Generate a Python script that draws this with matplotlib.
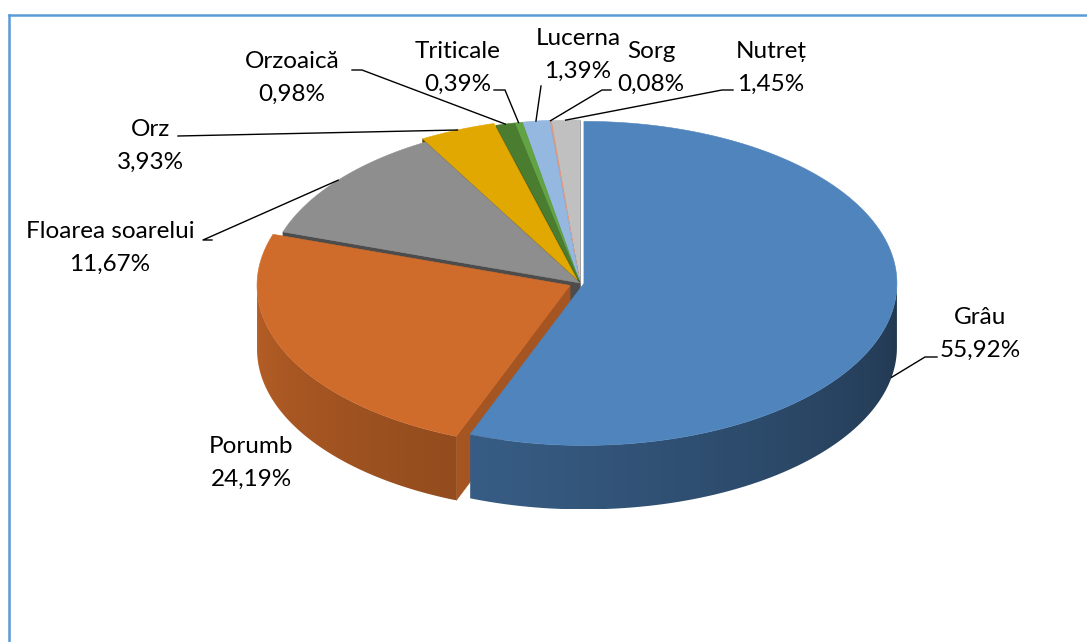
import numpy as np
import matplotlib.pyplot as plt
from matplotlib.patches import Polygon
from matplotlib.colors import to_rgb

# share of cultivated area, clockwise from 12 o'clock
crops = ['Grâu', 'Porumb', 'Floarea soarelui', 'Orz', 'Orzoaică',
         'Triticale', 'Lucerna', 'Sorg', 'Nutreț']
shares = [55.92, 24.19, 11.67, 3.93, 0.98, 0.39, 1.39, 0.08, 1.45]

colors = ['#4f84bd', '#d06c2b', '#8e8e8e', '#e0a800', '#4b7d31',
          '#62a343', '#95b8e0', '#e89a7c', '#c0c0c0']
explode = [4, 11, 0, 7, 3, 3, 3, 2, 2]   # px, along mid angle

# layout of the fake 3d pie (pixel units)
cx, cy, rx, ry, depth = 580, 283, 313, 162, 64

# label block centres (two lines) and leader start points
label_xy = [(980, 334), (251, 463), (110, 248), (150, 146), (292, 78),
            (458, 68), (578, 55), (651, 68), (771, 68)]
leader_from = [[(937, 357), (925, 357)], None, [(212, 240), (203, 240)],
               [(178, 136)], [(352, 70), (362, 70)], [(494, 90), (505, 90)],
               [(541, 86)], [(611, 90), (602, 90)], [(733, 90), (722, 90)]]
leader_drop = [depth, 0, 0, 0, 0, 0, 0, 0, 0]


def pt(theta, dx, dy, drop=0.0):
    t = np.radians(theta)
    return cx + dx + rx * np.sin(t), cy + dy - ry * np.cos(t) + drop


def shade(c, f):
    r, g, b = to_rgb(c)
    return (r * f, g * f, b * f)


def wall_factor(theta):
    # outer wall is lit from the front-left
    return 0.42 + 0.46 * (theta - 90) / 180


fig = plt.figure(figsize=(10.87, 6.42), dpi=100)
ax = fig.add_axes([0, 0, 1, 1])

bounds = np.concatenate([[0], np.cumsum(shares) / np.sum(shares) * 360])
slices = []
for i in range(len(shares)):
    a0, a1 = bounds[i], bounds[i + 1]
    mid = (a0 + a1) / 2
    m = np.radians(mid)
    dx = explode[i] * np.sin(m)
    dy = -explode[i] * np.cos(m) * ry / rx
    slices.append((a0, a1, mid, dx, dy))

z = 1
for i in reversed(range(len(shares))):
    a0, a1, mid, dx, dy = slices[i]
    col = colors[i]
    c0 = (cx + dx, cy + dy)
    # radial walls facing the viewer
    for a, sgn in ((a0, -1), (a1, 1)):
        t = np.radians(a)
        nx, ny = sgn * np.cos(t), sgn * np.sin(t)
        if ny <= 0:
            continue
        ex, ey = pt(a, dx, dy)
        quad = [c0, (ex, ey), (ex, ey + depth), (c0[0], c0[1] + depth)]
        fc = shade(col, 0.6 + 0.2 * nx)
        ax.add_patch(Polygon(quad, closed=True, fc=fc, ec=fc, lw=0.5,
                             zorder=z))
        z += 1
    # outer wall, front half only, gradient from left (light) to right (dark)
    lo, hi = max(a0, 90), min(a1, 270)
    if hi > lo:
        th = np.linspace(lo, hi, int((hi - lo) / 0.5) + 2)
        xs, ys = pt(th, dx, dy)
        wall = list(zip(xs, ys)) + list(zip(xs[::-1], ys[::-1] + depth))
        wpatch = Polygon(wall, closed=True, fc='none', ec='none', zorder=z)
        ax.add_patch(wpatch)
        xmin, xmax = xs.min(), xs.max()
        gx = np.linspace(xmin, xmax, 300)
        s = np.clip((gx - cx - dx) / rx, -1, 1)
        gth = 180 - np.degrees(np.arcsin(s))
        img = np.array([[shade(col, wall_factor(g)) for g in gth]])
        im = ax.imshow(img, extent=[xmin, xmax, ys.max() + depth, ys.min()],
                       aspect='auto', interpolation='bilinear', zorder=z)
        im.set_clip_path(wpatch)
        z += 1
    # top face
    th = np.linspace(a0, a1, max(int((a1 - a0) / 0.5), 2) + 1)
    xs, ys = pt(th, dx, dy)
    top = [c0] + list(zip(xs, ys))
    ax.add_patch(Polygon(top, closed=True, fc=col, ec=col, lw=0.4,
                         zorder=z))
    z += 1

ax.set_xlim(0, 1087)
ax.set_ylim(642, 0)
ax.axis('off')

# labels and leader lines
for i, name in enumerate(crops):
    a0, a1, mid, dx, dy = slices[i]
    txt = f'{name}\n{shares[i]:.2f}%'.replace('.', ',')
    lx, ly = label_xy[i]
    ax.text(lx, ly, txt, ha='center', va='center', fontsize=17.5,
            family='Lato', linespacing=1.65, color='#000000', zorder=z + 2)
    if leader_from[i] is not None:
        ex, ey = pt(mid, dx, dy, leader_drop[i])
        path = leader_from[i] + [(ex, ey)]
        ax.plot([p[0] for p in path], [p[1] for p in path],
                color='black', lw=1.0, zorder=z + 1)

# chart area border (top and left edges visible)
ax.plot([8.5, 1087], [14.5, 14.5], color='#5b9bd5', lw=1.8, clip_on=False)
ax.plot([8.5, 8.5], [14.5, 642], color='#5b9bd5', lw=1.8, clip_on=False)

fig.savefig('out.png', dpi=100)
plt.close(fig)
